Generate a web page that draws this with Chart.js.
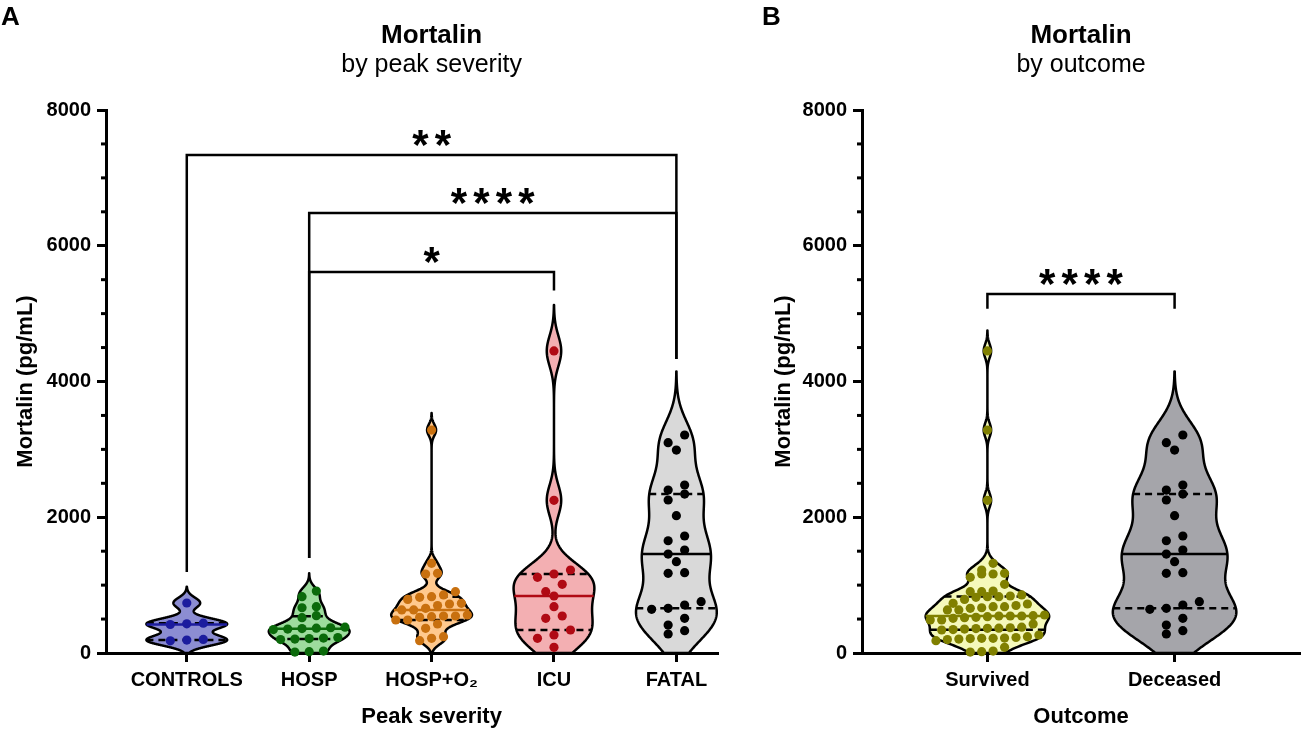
<!DOCTYPE html>
<html><head><meta charset="utf-8">
<script src="https://cdn.jsdelivr.net/npm/chart.js@4.4.1/dist/chart.umd.min.js"></script>
<style>
html,body{margin:0;padding:0;background:#fff;}
#wrap{position:relative;width:1308px;height:735px;overflow:hidden;background:#fff;}
.pane{position:absolute;top:0;height:735px;}
</style></head><body>
<div id="wrap">
<div class="pane" style="left:0;width:760px"><canvas id="cA"></canvas></div>
<div class="pane" style="left:760px;width:548px"><canvas id="cB"></canvas></div>
</div>
<script>
// ---------------- data ----------------
const severityCategories = ['CONTROLS', 'HOSP', 'HOSP+O\u2082', 'ICU', 'FATAL'];
const controlsValues = [737, 440, 430, 420, 200, 190, 180];
const hospValues = [913, 830, 682, 667, 550, 520, 380, 372, 366, 360, 352, 345, 228, 220, 212, 205, 198, 28, 20, 14];
const hospO2Values = [3285, 1321, 1174, 1164, 903, 855, 830, 820, 790, 732, 722, 700, 658, 634, 634, 560, 545, 545, 535, 526, 486, 486, 427, 364, 240, 216, 181];
const icuValues = [4450, 2250, 1223, 1164, 1115, 1012, 903, 840, 682, 545, 511, 339, 265, 216, 84];
const fatalValues = [3212, 3098, 2990, 2475, 2401, 2342, 2254, 2023, 1724, 1654, 1517, 1458, 1345, 1183, 1174, 756, 707, 658, 644, 511, 412, 329, 280];

const outcomeCategories = ['Survived', 'Deceased'];
const survivedValues = [...hospValues, ...hospO2Values, ...icuValues];
const deceasedValues = [...fatalValues];

const yTickValues = [0, 2000, 4000, 6000, 8000];
const yMinorTickValues = [500, 1000, 1500, 2500, 3000, 3500, 4500, 5000, 5500, 6500, 7000, 7500];

// [fromIndex, toIndex, barValue, fromLegEnd, toLegEnd, label]
const severityComparisons = [
  [0, 4, 7336, 1193, 4330, '**'],
  [1, 4, 6482, 1400, 4330, '****'],
  [1, 3, 5613, 1400, 5340, '*']
];
const outcomeComparisons = [
  [0, 1, 5290, 5070, 5070, '****']
];

// ---------------- styles ----------------
const FONT = "'Liberation Sans', Arial, Helvetica, sans-serif";
const VIOLIN_HALF = 0.33;
const KDE_FACTOR = 0.7, KDE_CUT = 3;
const DOT_R = 4.6, ROW_PX = 8.5, GAP_MAX = 16.5;

function quantile(s, p) {
  const n = s.length; const pos = p * (n + 1) - 1;
  if (pos <= 0) return s[0];
  if (pos >= n - 1) return s[n - 1];
  const i = Math.floor(pos), f = pos - i;
  return s[i] + f * (s[i + 1] - s[i]);
}
function computeStats(values) {
  const s = [...values].sort((a, b) => a - b); const n = s.length;
  const mean = s.reduce((a, b) => a + b, 0) / n;
  const sd = Math.sqrt(s.reduce((a, b) => a + (b - mean) * (b - mean), 0) / (n - 1));
  const q1 = quantile(s, 0.25), med = quantile(s, 0.5), q3 = quantile(s, 0.75);
  const h = KDE_FACTOR * 0.9 * Math.min(sd, (q3 - q1) / 1.34) * Math.pow(n, -0.2);
  const lo = Math.max(0, s[0] - KDE_CUT * h), hi = s[n - 1] + KDE_CUT * h;
  const steps = 400; const prof = []; let dmax = 0;
  for (let k = 0; k <= steps; k++) {
    const y = lo + (hi - lo) * k / steps; let d = 0;
    for (const v of s) { const z = (y - v) / h; d += Math.exp(-0.5 * z * z); }
    prof.push([y, d]); if (d > dmax) dmax = d;
  }
  prof.forEach(p => { p[1] /= dmax; });
  return { q1, med, q3, prof };
}
function widthAt(prof, v) {
  if (v <= prof[0][0]) return prof[0][1];
  for (let k = 1; k < prof.length; k++) {
    if (prof[k][0] >= v) {
      const [y0, w0] = prof[k - 1], [y1, w1] = prof[k];
      return w0 + (w1 - w0) * (v - y0) / (y1 - y0);
    }
  }
  return prof[prof.length - 1][1];
}

function violinPlugin(groups) {
  return {
    id: 'violins',
    beforeDatasetsDraw(chart) {
      const { ctx, chartArea: ca, scales: { x, y } } = chart;
      ctx.save();
      ctx.beginPath();
      ctx.rect(ca.left, ca.top - 60, ca.right - ca.left, ca.bottom - ca.top + 60);
      ctx.clip();
      groups.forEach((g, i) => {
        const st = g.stats;
        ctx.beginPath();
        st.prof.forEach(([v, w], k) => {
          const px = x.getPixelForValue(i + w * VIOLIN_HALF), py = y.getPixelForValue(v);
          if (k) ctx.lineTo(px, py); else ctx.moveTo(px, py);
        });
        for (let k = st.prof.length - 1; k >= 0; k--) {
          const [v, w] = st.prof[k];
          ctx.lineTo(x.getPixelForValue(i - w * VIOLIN_HALF), y.getPixelForValue(v));
        }
        ctx.closePath();
        ctx.fillStyle = g.fill; ctx.fill();
        ctx.lineWidth = 2.5; ctx.strokeStyle = '#000'; ctx.lineJoin = 'round';
        ctx.stroke();
        const line = (v, color, dash) => {
          const w = widthAt(st.prof, v) * VIOLIN_HALF;
          ctx.beginPath();
          ctx.setLineDash(dash);
          ctx.moveTo(x.getPixelForValue(i - w), y.getPixelForValue(v));
          ctx.lineTo(x.getPixelForValue(i + w), y.getPixelForValue(v));
          ctx.strokeStyle = color; ctx.lineWidth = 2.5; ctx.stroke();
          ctx.setLineDash([]);
        };
        line(st.q1, '#000', [7, 5]);
        line(st.q3, '#000', [7, 5]);
        line(st.med, g.dot, []);
      });
      ctx.restore();
    }
  };
}

function annotatePlugin(o) {
  return {
    id: 'annotate',
    afterDraw(chart) {
      const { ctx, chartArea: ca, scales: { x, y } } = chart;
      ctx.save();
      // minor ticks
      ctx.strokeStyle = '#000'; ctx.lineWidth = 3;
      yMinorTickValues.forEach(v => {
        const py = y.getPixelForValue(v);
        ctx.beginPath(); ctx.moveTo(ca.left - 5, py); ctx.lineTo(ca.left, py); ctx.stroke();
      });
      // comparisons
      ctx.lineWidth = 2.5; ctx.lineJoin = 'miter'; ctx.lineCap = 'butt';
      o.comparisons.forEach(([a, b, bar, ea, eb, label]) => {
        const xa = x.getPixelForValue(a), xb = x.getPixelForValue(b), yb = y.getPixelForValue(bar);
        ctx.beginPath();
        ctx.moveTo(xa, y.getPixelForValue(ea)); ctx.lineTo(xa, yb); ctx.lineTo(xb, yb); ctx.lineTo(xb, y.getPixelForValue(eb));
        ctx.stroke();
        ctx.fillStyle = '#000'; ctx.font = 'bold 42px ' + FONT; ctx.textAlign = 'center'; ctx.textBaseline = 'alphabetic';
        const cx = (xa + xb) / 2, cy = yb - 20; const pitch = 22.5; const n = label.length;
        for (let k = 0; k < n; k++) ctx.fillText(label[k], cx + (k - (n - 1) / 2) * pitch, cy + 24);
      });
      // texts
      ctx.fillStyle = '#000';
      ctx.textAlign = 'left'; ctx.font = 'bold 26px ' + FONT;
      ctx.fillText(o.letter, o.letterX, 25);
      const tc = x.getPixelForValue((o.categories.length - 1) / 2);
      ctx.textAlign = 'center';
      ctx.font = 'bold 26px ' + FONT; ctx.fillText(o.title, tc, 43);
      ctx.font = '25px ' + FONT; ctx.fillText(o.subtitle, tc, 72);
      ctx.font = 'bold 22px ' + FONT; ctx.fillText(o.xTitle, tc, 723);
      ctx.save();
      ctx.translate(o.yTitleX, (ca.top + ca.bottom) / 2);
      ctx.rotate(-Math.PI / 2);
      ctx.fillText(o.yTitle, 0, 0);
      ctx.restore();
      ctx.restore();
    }
  };
}

function layoutPoints(chart, groups) {
  const x = chart.scales.x, y = chart.scales.y;
  const pxPerUnitY = Math.abs(y.getPixelForValue(0) - y.getPixelForValue(1000)) / 1000;
  const pxPerCat = Math.abs(x.getPixelForValue(1) - x.getPixelForValue(0));
  const rowV = ROW_PX / pxPerUnitY;
  groups.forEach((g, i) => {
    const desc = [...g.values].sort((a, b) => b - a);
    const rows = []; let cur = null;
    desc.forEach(v => { if (!cur || cur[0] - v > rowV) { cur = [v]; rows.push(cur); } else cur.push(v); });
    const nmax = Math.max(...rows.map(r => r.length));
    const full = 2 * VIOLIN_HALF * pxPerCat;
    const gap = nmax > 1 ? Math.min(GAP_MAX, (full - 2 * DOT_R) / (nmax - 1)) : GAP_MAX;
    const pts = [];
    rows.forEach(r => {
      const asc = [...r].reverse();
      asc.forEach((v, k) => pts.push({ x: i + (k - (asc.length - 1) / 2) * gap / pxPerCat, y: v }));
    });
    chart.data.datasets[i].data = pts;
  });
  chart.update('none');
}

function axisCommon() {
  return {
    grid: { display: true, drawOnChartArea: false, drawTicks: true, tickLength: 9, tickWidth: 3, tickColor: '#000' },
    border: { display: true, color: '#000', width: 3 }
  };
}

function buildPanel(canvasId, o) {
  const groups = o.values.map((vals, i) => ({ values: vals, stats: computeStats(vals), fill: o.fills[i], dot: o.dots[i] }));
  const tickFont = { family: FONT, size: 20, weight: 'bold' };
  const chart = new Chart(document.getElementById(canvasId), {
    type: 'scatter',
    data: {
      datasets: groups.map((g, i) => ({
        data: g.values.map(v => ({ x: i, y: v })),
        backgroundColor: g.dot, borderWidth: 0, pointRadius: DOT_R, pointHoverRadius: DOT_R, clip: false
      }))
    },
    options: {
      responsive: true, maintainAspectRatio: false, animation: false, events: [],
      layout: { padding: { left: 0, top: 110, right: o.padRight, bottom: 0 } },
      plugins: { legend: { display: false }, tooltip: { enabled: false }, title: { display: false } },
      scales: {
        x: Object.assign({
          type: 'linear', min: o.xMin, max: o.xMax,
          afterBuildTicks: s => { s.ticks = o.categories.map((c, i) => ({ value: i })); },
          afterFit: s => { s.height = 82; },
          ticks: { callback: v => o.categories[v] ?? '', autoSkip: false, maxRotation: 0, minRotation: 0, padding: 6, color: '#000', font: tickFont }
        }, axisCommon()),
        y: Object.assign({
          type: 'linear', min: 0, max: 8000,
          afterBuildTicks: s => { s.ticks = yTickValues.map(v => ({ value: v })); },
          afterFit: s => { s.width = o.yWidth; },
          ticks: { callback: v => String(v), padding: 6, color: '#000', font: tickFont }
        }, axisCommon())
      }
    },
    plugins: [violinPlugin(groups), annotatePlugin(o)]
  });
  layoutPoints(chart, groups);
  return chart;
}

buildPanel('cA', {
  categories: severityCategories,
  values: [controlsValues, hospValues, hospO2Values, icuValues, fatalValues],
  fills: ['#8c8dd2', '#9ddc9d', '#ffc98e', '#f3afb2', '#d9d9d9'],
  dots: ['#1c1c9e', '#0b6a0b', '#c8700f', '#b00a14', '#000000'],
  comparisons: severityComparisons,
  xMin: -0.66, xMax: 4.34, yWidth: 106, padRight: 42,
  letter: 'A', letterX: 1, yTitleX: 32,
  title: 'Mortalin', subtitle: 'by peak severity', xTitle: 'Peak severity', yTitle: 'Mortalin (pg/mL)'
});
buildPanel('cB', {
  categories: outcomeCategories,
  values: [survivedValues, deceasedValues],
  fills: ['#f5f9bb', '#a5a5aa'],
  dots: ['#808000', '#000000'],
  comparisons: outcomeComparisons,
  xMin: -0.67, xMax: 1.67, yWidth: 102, padRight: 8,
  letter: 'B', letterX: 2, yTitleX: 30,
  title: 'Mortalin', subtitle: 'by outcome', xTitle: 'Outcome', yTitle: 'Mortalin (pg/mL)'
});
</script>
</body></html>
